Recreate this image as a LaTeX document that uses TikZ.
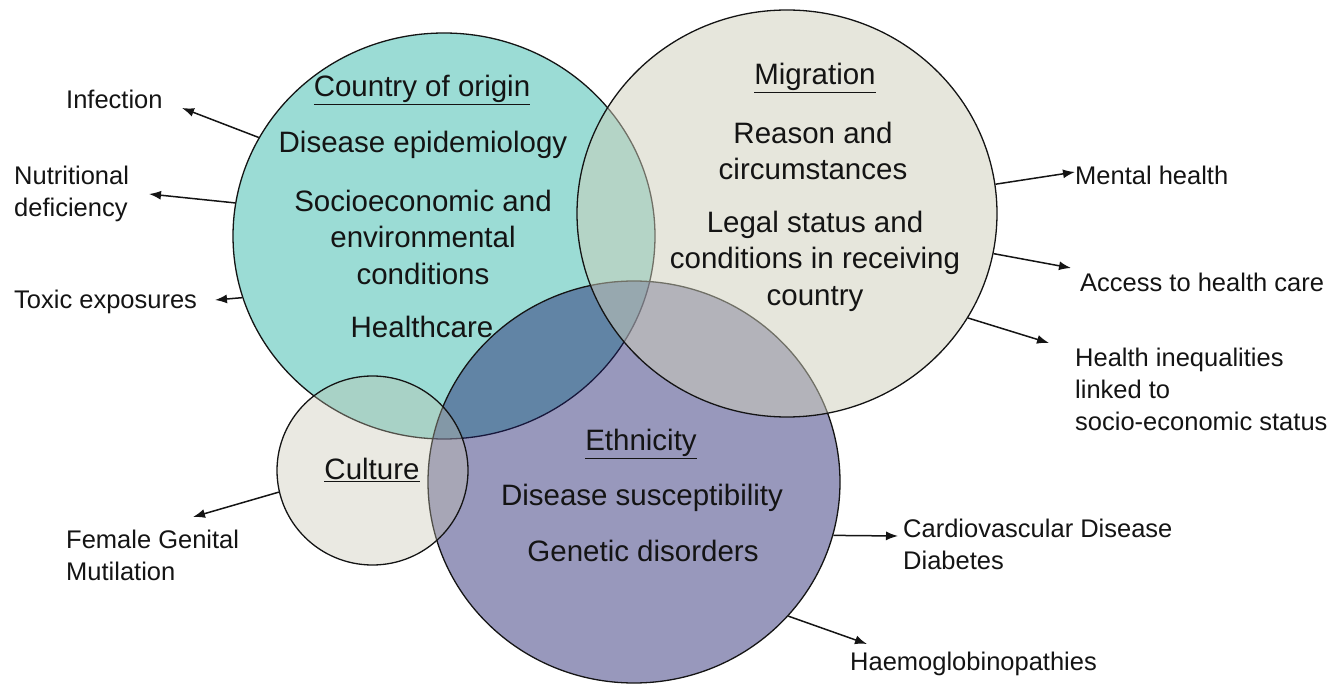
\documentclass[tikz,border=0pt]{standalone}
\usepackage{fontspec}
\setmainfont{Liberation Sans}
\usetikzlibrary{shapes.geometric,arrows.meta}
\definecolor{cteal}{HTML}{9BDCD5}
\definecolor{cnavy}{RGB}{27,27,107}
\definecolor{cmig}{RGB}{205,205,185}
\definecolor{ccult}{RGB}{195,192,172}
\definecolor{ink}{HTML}{141414}
\begin{document}
\begin{tikzpicture}[x=1pt,y=-1pt,
  venn/.style={ellipse, draw=ink, line width=1.3pt, inner sep=0pt},
  big/.style={font=\fontsize{29.5}{36.5}\selectfont, align=center, inner sep=0pt, text=ink},
  lbl/.style={font=\fontsize{25.5}{32}\selectfont, align=left, anchor=west, inner sep=0pt, text=ink},
  arr/.style={-{Latex[length=12pt,width=9pt]}, line width=1.5pt, draw=ink}]
\useasboundingbox (0,0) rectangle (1339,684);

% circles
\node[venn, fill=cteal, minimum width=422pt, minimum height=406pt] (country) at (444,236) {};
\node[venn, fill=cnavy, fill opacity=0.45, minimum width=412pt, minimum height=402pt] (ethnicity) at (634,482) {};
\node[venn, fill=cmig, fill opacity=0.5, minimum width=420pt, minimum height=407pt] (migration) at (787,213.5) {};
\node[venn, fill=ccult, fill opacity=0.35, minimum width=191pt, minimum height=189pt] (culture) at (372.5,470.5) {};

% texts in circles
\node[big] (hC) at (422,90) {\underline{Country of origin}};
\node[big] (c1) at (423,145) {Disease epidemiology};
\node[big] (c2) at (423,237) {Socioeconomic and\\environmental\\conditions};
\node[big] (c3) at (422,327) {Healthcare};

\node[big] (hM) at (815,78) {\underline{Migration}};
\node[big] (m1) at (813,151) {Reason and\\circumstances};
\node[big] (m2) at (815,261) {Legal status and\\conditions in receiving\\country};

\node[big] (hE) at (641,444) {\underline{Ethnicity}};
\node[big] (e1) at (642,498) {Disease susceptibility};
\node[big] (e2) at (643,551) {Genetic disorders};

\node[big] (hK) at (372,470) {\underline{Culture}};

% outside labels
\node[lbl] (lInf) at (66,99) {Infection};
\node[lbl] (lNut) at (14,194) {Nutritional\\deficiency};
\node[lbl] (lTox) at (14,302) {Toxic exposures};
\node[lbl] (lMen) at (1075,175) {Mental health};
\node[lbl] (lAcc) at (1080,282) {Access to health care};
\node[lbl] (lHea) at (1075,389) {Health inequalities\\linked to\\socio-economic status};
\node[lbl] (lFgm) at (66,555) {Female Genital\\Mutilation};
\node[lbl] (lCar) at (903,544) {Cardiovascular Disease\\Diabetes};
\node[lbl] (lHae) at (850,664) {Haemoglobinopathies};

% arrow tips
\coordinate (tInf) at (182,108);
\coordinate (tNut) at (149,194);
\coordinate (tTox) at (215,300);
\coordinate (tMen) at (1075,172);
\coordinate (tAcc) at (1071,268);
\coordinate (tHea) at (1049,343);
\coordinate (tFgm) at (193,517);
\coordinate (tCar) at (898,536);
\coordinate (tHae) at (867,644);

\draw[arr] (country.152.6) -- (tInf);
\draw[arr] (country.171.3) -- (tNut);
\draw[arr] (country.197.8) -- (tTox);
\draw[arr] (migration.8.5) -- (tMen);
\draw[arr] (migration.-11.7) -- (tAcc);
\draw[arr] (migration.-30) -- (tHea);
\draw[arr] (culture.193.8) -- (tFgm);
\draw[arr] (ethnicity.-15.2) -- (tCar);
\draw[arr] (ethnicity.-41.8) -- (tHae);
\end{tikzpicture}
\end{document}
